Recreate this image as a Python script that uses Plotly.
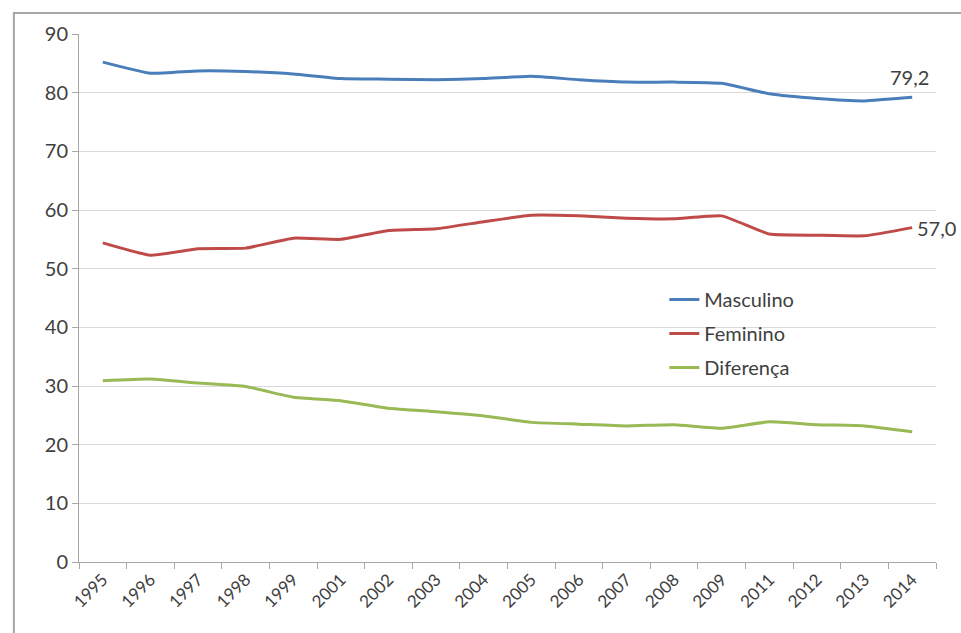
import plotly.graph_objects as go

years = ["1995", "1996", "1997", "1998", "1999", "2001", "2002", "2003", "2004",
         "2005", "2006", "2007", "2008", "2009", "2011", "2012", "2013", "2014"]

masculino = [85.2, 83.3, 83.7, 83.6, 83.2, 82.4, 82.3, 82.2, 82.4,
             82.8, 82.2, 81.8, 81.8, 81.6, 79.8, 79.0, 78.6, 79.2]
feminino = [54.4, 52.3, 53.4, 53.5, 55.2, 55.0, 56.5, 56.8, 58.0,
            59.1, 59.0, 58.6, 58.5, 59.0, 55.9, 55.7, 55.6, 57.0]
diferenca = [30.9, 31.2, 30.5, 29.9, 28.1, 27.5, 26.2, 25.6, 24.9,
             23.8, 23.5, 23.2, 23.4, 22.8, 23.9, 23.4, 23.2, 22.2]

series = [
    ("Masculino", masculino, "#4A7EBB"),
    ("Feminino", feminino, "#BE4B48"),
    ("Diferença", diferenca, "#98B954"),
]

FONT = "Lato, 'Noto Sans', sans-serif"
TXT = "#404040"
last = len(years) - 1

fig = go.Figure()
for i, (name, vals, color) in enumerate(series):
    fig.add_trace(go.Scatter(
        x=years, y=vals, name=name, mode="lines",
        line=dict(color=color, width=3, shape="spline", smoothing=0.4),
        legendgroup=str(i),
    ))

# end-point value labels
fig.add_annotation(x=last, y=masculino[-1], text="79,2", showarrow=False,
                   xanchor="left", yanchor="bottom", xshift=-24, yshift=6,
                   font=dict(size=20, color=TXT, family=FONT))
fig.add_annotation(x=last, y=feminino[-1], text="57,0", showarrow=False,
                   xanchor="left", yanchor="middle", xshift=3, yshift=0,
                   font=dict(size=20, color=TXT, family=FONT))

# outer chart frame (runs off the right and bottom edges like the source image)
fig.add_shape(type="rect", xref="paper", yref="paper",
              x0=-0.076, y0=-0.2, x1=1.06, y1=1.04,
              line=dict(color="#A6A6A6", width=2), fillcolor="rgba(0,0,0,0)")

fig.update_xaxes(
    type="category", range=[-0.5, last + 0.5], autorange=False,
    showgrid=False, showline=True, linecolor="#A6A6A6", linewidth=1,
    ticks="outside", tickson="boundaries", ticklen=6, tickcolor="#A6A6A6",
    tickangle=-45, tickfont=dict(size=17, color=TXT, family=FONT),
)
fig.update_yaxes(
    range=[0, 90], dtick=10, showgrid=True, gridcolor="#D9D9D9", gridwidth=1,
    showline=True, linecolor="#A6A6A6", linewidth=1, zeroline=False,
    ticks="outside", ticklen=6, tickcolor="#A6A6A6",
    tickfont=dict(size=20, color=TXT, family=FONT),
)

fig.update_layout(
    width=961, height=633,
    margin=dict(l=79, r=25, t=34, b=71, autoexpand=False),
    plot_bgcolor="white", paper_bgcolor="white",
    font=dict(family=FONT, color=TXT),
    legend=dict(x=0.683, y=0.534, xanchor="left", yanchor="top",
                bgcolor="rgba(0,0,0,0)", font=dict(size=20, color=TXT, family=FONT),
                tracegroupgap=5, itemwidth=30),
    showlegend=True,
)

fig.write_html(
    "out.html",
    config={"displayModeBar": False},
    post_script="document.body.style.margin='0';document.body.style.overflow='hidden';",
)
